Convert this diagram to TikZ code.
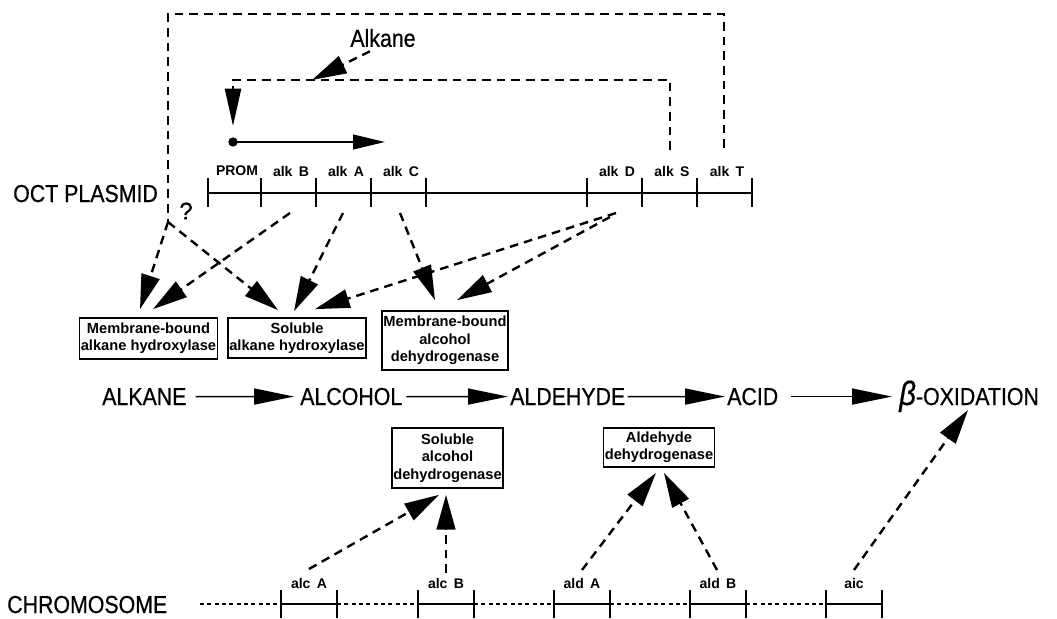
\documentclass[tikz,border=0pt]{standalone}
\usepackage{fontspec}
\setmainfont{Liberation Sans}
\usepackage{graphicx}
\usetikzlibrary{arrows.meta,calc}
\newcommand{\Tall}[1]{\scalebox{1}[1.15]{#1}}
\begin{document}
\begin{tikzpicture}[x=0.75pt,y=-0.75pt,
  big/.style={font=\fontsize{16}{16}\selectfont\addfontfeature{FakeBold=0.6}, inner sep=0pt},
  lab/.style={font=\bfseries\fontsize{10.5}{10.5}\selectfont, inner sep=0pt},
  enz/.style={draw, line width=1.3pt, font=\bfseries\fontsize{11}{13}\selectfont, align=center, inner sep=1pt},
  dsh/.style={line width=1.8pt, dash pattern=on 6.5pt off 4.5pt},
  dar/.style={dsh, -{Triangle[length=26pt,width=14pt]}},
  mar/.style={line width=1.2pt, -{Triangle[length=30pt,width=12pt]}},
  gl/.style={line width=1.6pt},
  tk/.style={line width=1.4pt},
  chd/.style={line width=1.1pt, dash pattern=on 3pt off 2.5pt}
]
\useasboundingbox (0,0) rectangle (1057,618);

% ---------- OCT plasmid ----------
\node[big, anchor=base west] (oct) at (13,202) {\Tall{OCT PLASMID}};
\draw[gl] (208,193) -- (752,193);
\foreach \x in {208,261,316,371,426,587,642,697,752}
  \draw[tk] (\x,178) -- (\x,207);
\node[lab] (prom) at (237,171) {PROM};
\node[lab] (aB) at (291,171) {alk\hspace{0.45em}B};
\node[lab] (aA) at (346,171) {alk\hspace{0.45em}A};
\node[lab] (aC) at (401,171) {alk\hspace{0.45em}C};
\node[lab] (aD) at (617,171) {alk\hspace{0.45em}D};
\node[lab] (aS) at (672,171) {alk\hspace{0.45em}S};
\node[lab] (aT) at (727,171) {alk\hspace{0.45em}T};

% promoter arrow
\node[circle, fill, inner sep=0pt, minimum size=7pt] (dot) at (233,142) {};
\coordinate (promend) at (385,142);
\draw[line width=1.6pt, -{Triangle[length=24pt,width=11pt]}] (dot.center) -- (promend);

% regulation loops
\node[big] (alk) at (383,38) {\Tall{Alkane}};
\coordinate (sTop) at (670,150);
\coordinate (dTip) at (233,126);
\draw[dsh, -{Triangle[length=28pt,width=12pt]}] (sTop) -- (670,80) -- (233,80) -- (dTip);
\coordinate (alkTip) at (312,80);
\draw[dar] ($(alk.south)+(-13,4)$) -- (alkTip);
\coordinate (tTop) at (724,148);
\coordinate (jn) at (168,222);
\draw[dsh] (tTop) -- (724,14) -- (168,14) -- (jn);
\node[font=\fontsize{18}{18}\selectfont\addfontfeature{FakeBold=0.6}, inner sep=0pt] (q) at (186,211) {?};

% ---------- enzyme boxes (upper) ----------
\node[enz, minimum width=102.75pt, minimum height=30.75pt] (b1) at (148.5,338.5) {Membrane-bound\\alkane hydroxylase};
\node[enz, minimum width=103.5pt, minimum height=30pt] (b2) at (297,338) {Soluble\\alkane hydroxylase};
\node[enz, minimum width=94.5pt, minimum height=44.25pt] (b3) at (445,340.5) {Membrane-bound\\alcohol\\dehydrogenase};

\draw[dar] (jn) -- ($(b1.north)+(-8.5,-8)$);
\draw[dar] ($(aB)+(-1,42)$) -- ($(b1.north)+(4.5,-8)$);
\draw[dar] (jn) -- ($(b2.north)+(-19,-7)$);
\draw[dar] ($(aA)+(-3,42)$) -- ($(b2.north)+(-3,-6)$);
\draw[dar] ($(aD)+(-1,42)$) -- ($(b2.north)+(18,-8)$);
\draw[dar] ($(aC)+(-1,42)$) -- ($(b3.north)+(-10,-10)$);
\draw[dar] ($(aD)+(-7,46)$) -- ($(b3.north)+(12,-10)$);

% ---------- pathway ----------
\node[big, anchor=base west] (alkane) at (102,405) {\Tall{ALKANE}};
\node[big, anchor=base west] (alcohol) at (300,405) {\Tall{ALCOHOL}};
\node[big, anchor=base west] (aldehyde) at (510,405) {\Tall{ALDEHYDE}};
\node[big, anchor=base west] (acid) at (727,405) {\Tall{ACID}};
\node[big, anchor=base west] (beta) at (899,405) {\Tall{{\fontsize{22}{22}\selectfont\itshape\addfontfeature{FakeBold=0.6}β}-OXIDATION}};
\draw[mar] ($(alkane.east)+(9,0)$) -- ($(alcohol.west)+(-6,0)$);
\draw[mar] ($(alcohol.east)+(4,0)$) -- ($(aldehyde.west)+(-2,0)$);
\draw[mar] ($(aldehyde.east)+(2,0)$) -- ($(acid.west)+(-2,0)$);
\draw[mar] ($(acid.east)+(12,0)$) -- ($(acid.east -| beta.west)+(-7,0)$);

% ---------- enzyme boxes (lower) ----------
\node[enz, minimum width=83.25pt, minimum height=45pt] (b4) at (447.5,458) {Soluble\\alcohol\\dehydrogenase};
\node[enz, minimum width=82.5pt, minimum height=29.25pt] (b5) at (659,447.5) {Aldehyde\\dehydrogenase};

% ---------- chromosome ----------
\node[big, anchor=base west] (chr) at (7,613) {\Tall{CHROMOSOME}};
\draw[chd] (200,604) -- (281,604);
\draw[chd] (337,604) -- (418,604);
\draw[chd] (474,604) -- (554,604);
\draw[chd] (610,604) -- (690,604);
\draw[chd] (746,604) -- (826,604);
\foreach \s in {281,418,554,690,826} {
  \draw[gl] (\s,604) -- (\s+56,604);
  \draw[tk] (\s,590) -- (\s,618);
  \draw[tk] (\s+56,590) -- (\s+56,618);
}
\node[lab] (cA) at (309,583) {alc\hspace{0.45em}A};
\node[lab] (cB) at (446,583) {alc\hspace{0.45em}B};
\node[lab] (dA) at (582,583) {ald\hspace{0.45em}A};
\node[lab] (dB) at (718,583) {ald\hspace{0.45em}B};
\node[lab] (ac) at (854,583) {aic};

\draw[dar] ($(cA)+(0,-14)$) -- ($(b4.south)+(-8.5,6)$);
\draw[dar] ($(cB)+(0,-10)$) -- ($(b4.south)+(-1.5,6)$);
\draw[dar] ($(dA)+(0,-13)$) -- ($(b5.south)+(-3,5)$);
\draw[dar] ($(dB)+(-1,-13)$) -- ($(b5.south)+(5,5)$);
\coordinate (oxTip) at (968,410);
\draw[dar] ($(ac)+(0,-13)$) -- (oxTip);
\end{tikzpicture}
\end{document}
